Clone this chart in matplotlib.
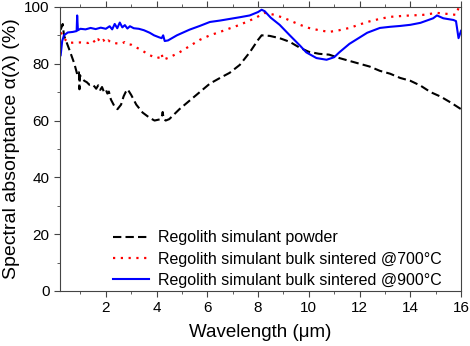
import numpy as np
import matplotlib.pyplot as plt
from matplotlib.ticker import MultipleLocator

plt.rcParams['font.family'] = ['Liberation Sans', 'DejaVu Sans']

# Regolith simulant powder (black dashed)
powder_x = [0.22, 0.30, 0.35, 0.56, 0.76, 0.88, 0.94, 0.96, 0.98, 1.04, 1.15, 1.25, 1.35,
            1.45, 1.55, 1.62, 1.7, 1.78, 1.85, 1.92, 2.0, 2.06, 2.12, 2.2, 2.34, 2.46, 2.6,
            2.7, 2.78, 2.86, 3.0, 3.2, 3.45, 3.72, 3.92, 4.12, 4.2, 4.24, 4.28, 4.36, 4.5,
            4.9, 5.3, 5.7, 6.1, 6.5, 6.88, 7.28, 7.67, 8.0, 8.14, 8.46, 8.85, 9.25, 9.65,
            10.0, 10.4, 10.8, 11.2, 11.6, 12.0, 12.4, 12.8, 13.2, 13.6, 14.0, 14.4, 14.8,
            15.2, 15.6, 16.0]
powder_y = [92, 94, 90, 85, 80, 76, 77, 71, 76, 75, 74, 73.5, 72.6,
            72.8, 72, 71.2, 72.4, 70.8, 71.8, 70.2, 70.9, 69.5, 70.2, 67.4, 65, 64, 65.6,
            68.5, 70, 71, 69, 65.6, 62.8, 61, 60, 60.4, 61, 63, 60.5, 60, 60.5,
            64, 67, 70, 73, 75, 76.8, 79.6, 84, 88.4, 90, 89.8, 89, 87.7, 85.6,
            84.2, 83.5, 83.2, 82, 81, 80, 79, 77.5, 76.5, 75, 74, 72.3, 70,
            68.4, 66.3, 64]

# Bulk sintered @700 C (red dotted)
s700_x = [0.22, 0.35, 0.5, 0.7, 1.0, 1.3, 1.5, 1.6, 1.7, 1.8, 1.9, 2.0, 2.1, 2.2, 2.4,
          2.6, 2.74, 2.85, 3.0, 3.4, 3.73, 4.0, 4.15, 4.2, 4.25, 4.5, 4.9, 5.3, 5.7,
          6.1, 6.5, 6.9, 7.28, 7.87, 8.26, 8.66, 9.05, 9.65, 10.0, 10.4, 10.8, 11.2,
          11.6, 12.3, 12.8, 13.2, 13.8, 14.5, 15.05, 15.5, 15.8, 15.9]
s700_y = [91, 89, 87.5, 87.4, 87.5, 87.3, 88.3, 87.2, 88.6, 87.5, 88.4, 87.3, 88.2, 87.5, 87.2,
          87.0, 87.6, 86.9, 86.7, 84.8, 83, 82, 82.3, 83.5, 81.4, 82.2, 84, 86.2, 88.4,
          90, 91.2, 92.5, 93.7, 96, 97.9, 97.2, 96, 93.7, 92.6, 91.8, 91.2, 91.8,
          92.6, 94.7, 95.8, 96.5, 96.9, 97.2, 97.9, 97.5, 97.2, 99.6]

# Bulk sintered @900 C (blue solid)
s900_x = [0.22, 0.28, 0.35, 0.5, 0.7, 0.85, 0.87, 0.9, 1.0, 1.2, 1.4, 1.6, 1.8, 2.0, 2.15,
          2.25, 2.35, 2.45, 2.55, 2.65, 2.75, 2.85, 2.95, 3.1, 3.3, 3.5, 3.73, 3.9, 4.1,
          4.2, 4.26, 4.32, 4.45, 4.8, 5.3, 5.7, 6.1, 6.5, 6.9, 7.3, 7.67, 8.0, 8.14,
          8.26, 8.5, 8.85, 9.25, 9.65, 9.9, 10.3, 10.7, 11.0, 11.2, 11.6, 12.3, 12.8,
          13.2, 13.6, 14.0, 14.4, 14.9, 15.05, 15.3, 15.7, 15.8, 15.9, 16.0]
s900_y = [83, 88, 90, 91, 91.2, 91.5, 97, 91.8, 92.3, 92.1, 92.6, 92.2, 92.7, 92.3, 93.2,
          92.1, 94, 92.5, 94.5, 92.8, 93.6, 92.4, 93.2, 92.5, 92.3, 91.8, 90.9, 90, 89.3,
          89, 90, 88, 88.2, 90, 92, 93.3, 94.7, 95.2, 95.8, 96.4, 97, 98.2, 99,
          98.5, 96.2, 93.7, 90, 86.4, 84, 82, 81.4, 82.3, 84, 87, 90.9, 92.6,
          93, 93.3, 93.7, 94.4, 96, 97, 96, 95.4, 95, 89, 91.6]

labels = ['Regolith simulant powder',
          'Regolith simulant bulk sintered @700\u00b0C',
          'Regolith simulant bulk sintered @900\u00b0C']

fig = plt.figure(figsize=(4.7, 3.46), dpi=100)
ax = fig.add_axes([0.128, 0.159, 0.853, 0.821])

ax.plot(powder_x, powder_y, color='black', linestyle=(0, (4, 2)), linewidth=1.5, label=labels[0])
ax.plot(s700_x, s700_y, color='red', linestyle=(0, (1, 2.5)), linewidth=1.6, label=labels[1])
ax.plot(s900_x, s900_y, color='blue', linestyle='-', linewidth=1.5, label=labels[2])

ax.set_xlim(0.2, 16)
ax.set_ylim(0, 100)
ax.xaxis.set_major_locator(MultipleLocator(2))
ax.xaxis.set_minor_locator(MultipleLocator(1))
ax.yaxis.set_major_locator(MultipleLocator(20))
ax.yaxis.set_minor_locator(MultipleLocator(10))
ax.tick_params(which='both', direction='out', labelsize=11, color='#444444', top=True)
ax.tick_params(which='major', length=4)
ax.tick_params(which='minor', length=2.5)
ax.tick_params(axis='x', which='minor', top=True, length=2.5)
for s in ax.spines.values():
    s.set_color('#444444')

ax.set_xlabel('Wavelength (\u03bcm)', fontsize=13.5, labelpad=6)
ax.set_ylabel('Spectral absorptance \u03b1(\u03bb) (%)', fontsize=14, labelpad=3)

ax.legend(loc='lower left', bbox_to_anchor=(0.095, -0.04), frameon=False, fontsize=11.5,
          handlelength=2.3, handletextpad=0.55, labelspacing=0.4)

fig.savefig('out.png', dpi=100)
